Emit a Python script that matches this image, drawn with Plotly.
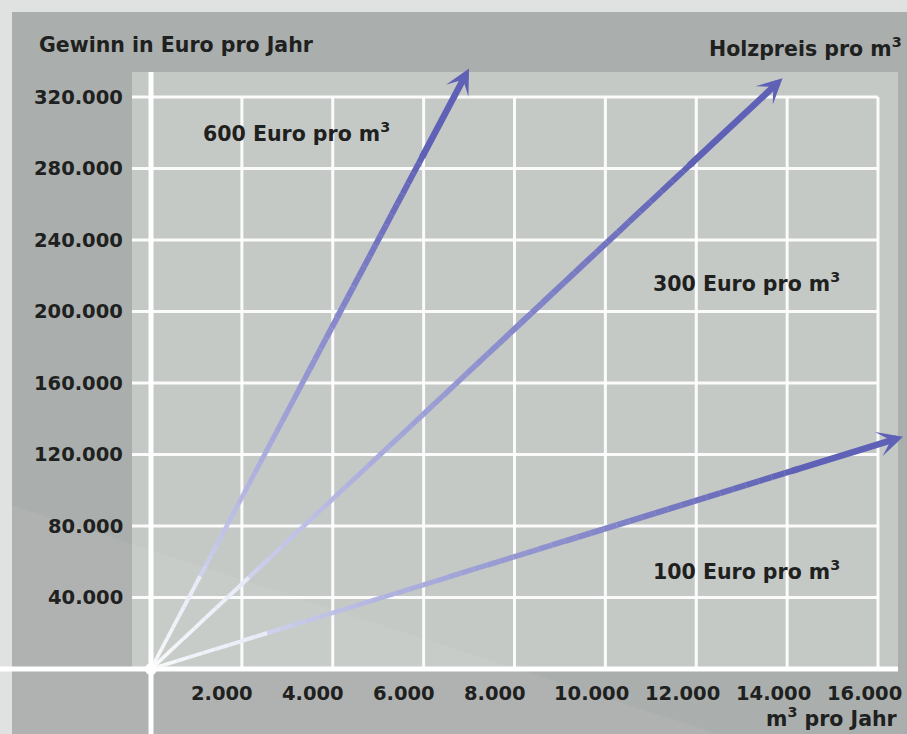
import numpy as np
import plotly.graph_objects as go

# ---------------- data ----------------
x_ticks = [2000, 4000, 6000, 8000, 10000, 12000, 14000, 16000]
x_tick_labels = ["2.000", "4.000", "6.000", "8.000", "10.000", "12.000", "14.000", "16.000"]
y_ticks = [40000, 80000, 120000, 160000, 200000, 240000, 280000, 320000]
y_tick_labels = ["40.000", "80.000", "120.000", "160.000", "200.000", "240.000", "280.000", "320.000"]

series_names = ["600 Euro pro m<sup>3</sup>", "300 Euro pro m<sup>3</sup>", "100 Euro pro m<sup>3</sup>"]
x_end = [7000, 13900, 16550]
y_end = [336000, 330500, 130000]
label_x = [1100, 11000, 11000]
label_y = [300000, 216500, 55000]

# ---------------- geometry ----------------
W, H = 907, 734
ppx = 727 / 16000.0       # pixels per x unit
ppy = 572 / 320000.0      # pixels per y unit
x0px, y0px = 151, 669
xr = [-x0px / ppx, (W - x0px) / ppx]
yr = [-(H - y0px) / ppy, y0px / ppy]

def dx(px):
    return (px - x0px) / ppx

def dy(py):
    return (y0px - py) / ppy

OUTER = "rgb(224,226,225)"
PANEL = "rgb(170,174,172)"
PLOT = "rgb(197,201,198)"
TXT = "rgb(30,33,32)"
FONT = "DejaVu Sans"

fig = go.Figure()
shapes = []
shapes.append(dict(type="rect", xref="x", yref="y", x0=dx(12), x1=dx(W + 5), y0=dy(12), y1=yr[0] - 1000,
                   fillcolor=PANEL, line=dict(width=0), layer="below"))
shapes.append(dict(type="rect", xref="x", yref="y", x0=dx(132), x1=dx(898), y0=dy(72), y1=0,
                   fillcolor=PLOT, line=dict(width=0), layer="below"))
shapes.append(dict(type="path", xref="x", yref="y",
                   path=f"M {dx(12)},{dy(505)} L {dx(718)},{dy(734)} L {dx(12)},{dy(734)} Z",
                   fillcolor="rgba(255,255,255,0.06)", line=dict(width=0), layer="below"))
for yt in y_ticks:
    shapes.append(dict(type="line", xref="x", yref="y", x0=dx(132), x1=x_ticks[-1], y0=yt, y1=yt,
                       line=dict(color="rgba(255,255,255,0.92)", width=3), layer="below"))
for xt in x_ticks:
    shapes.append(dict(type="line", xref="x", yref="y", x0=xt, x1=xt, y0=0, y1=y_ticks[-1],
                       line=dict(color="rgba(255,255,255,0.92)", width=3), layer="below"))
shapes.append(dict(type="line", xref="x", yref="y", x0=0, x1=0, y0=yr[0] - 1000, y1=dy(72),
                   line=dict(color="white", width=5), layer="below"))
shapes.append(dict(type="line", xref="x", yref="y", x0=xr[0], x1=dx(898), y0=0, y1=0,
                   line=dict(color="white", width=5), layer="below"))

def lerp(a, b, t):
    return tuple(a[i] + (b[i] - a[i]) * t for i in range(3))

WHITE = (250, 250, 252)
LIGHT = (210, 213, 240)
DARK = (95, 97, 182)
NSEG = 50
for xe, ye in zip(x_end, y_end):
    ts = np.linspace(0, 0.86, NSEG + 1)
    for k in range(NSEG):
        ta, tb = ts[k], ts[k + 1]
        tm = 0.5 * (ta + tb)
        if tm < 0.15:
            c = lerp(WHITE, (232, 234, 248), tm / 0.15)
        else:
            u = (tm - 0.15) / 0.71
            c = lerp(LIGHT, DARK, min(1.0, u ** 0.85))
        w = 3.5 + 2.5 * min(1, tm / 0.6)
        fig.add_trace(go.Scatter(x=[xe * ta, xe * tb], y=[ye * ta, ye * tb], mode="lines",
                                 line=dict(color="rgb(%d,%d,%d)" % c, width=w),
                                 hoverinfo="skip", showlegend=False))

annotations = []
for xe, ye in zip(x_end, y_end):
    annotations.append(dict(x=xe, y=ye, ax=xe * 0.85, ay=ye * 0.85, xref="x", yref="y",
                            axref="x", ayref="y", text="", showarrow=True, arrowhead=3,
                            arrowsize=0.65, arrowwidth=6.5, arrowcolor="rgb(95,97,182)", standoff=0))

fig.add_trace(go.Scatter(x=[0], y=[0], mode="markers",
                         marker=dict(color="white", size=12, line=dict(width=0)),
                         hoverinfo="skip", showlegend=False))

f = dict(family=FONT, size=20.5, color=TXT, weight="bold")
ft = dict(family=FONT, size=19.5, color=TXT, weight="bold")
for t, lx, ly in zip(series_names, label_x, label_y):
    annotations.append(dict(x=lx, y=ly, xref="x", yref="y", text=t, showarrow=False,
                            xanchor="left", yanchor="middle", font=f))
for xt, lab in zip(x_ticks, x_tick_labels):
    annotations.append(dict(x=xt, y=0, xref="x", yref="y", text=lab, showarrow=False,
                            xanchor="left", yanchor="middle", xshift=-53, yshift=-24, font=ft))
for yt, lab in zip(y_ticks, y_tick_labels):
    annotations.append(dict(x=0, y=yt, xref="x", yref="y", text=lab, showarrow=False,
                            xanchor="right", yanchor="middle", xshift=-26, font=ft))
annotations.append(dict(x=dx(37), y=dy(45), xref="x", yref="y", text="Gewinn in Euro pro Jahr",
                        showarrow=False, xanchor="left", yanchor="middle", font=f))
annotations.append(dict(x=dx(904), y=dy(47), xref="x", yref="y", text="Holzpreis pro m<sup>3</sup>",
                        showarrow=False, xanchor="right", yanchor="middle", font=f))
annotations.append(dict(x=dx(900), y=dy(717), xref="x", yref="y", text="m<sup>3</sup> pro Jahr",
                        showarrow=False, xanchor="right", yanchor="middle", font=f))

fig.update_layout(
    width=W, height=H, autosize=False,
    margin=dict(l=0, r=0, t=0, b=0, pad=0),
    paper_bgcolor=OUTER, plot_bgcolor=OUTER,
    xaxis=dict(range=xr, visible=False, fixedrange=True),
    yaxis=dict(range=yr, visible=False, fixedrange=True),
    shapes=shapes, annotations=annotations, showlegend=False,
)
fig.write_html("out.html", config={"displayModeBar": False},
               post_script="document.body.style.margin='0';document.body.style.overflow='hidden';")
